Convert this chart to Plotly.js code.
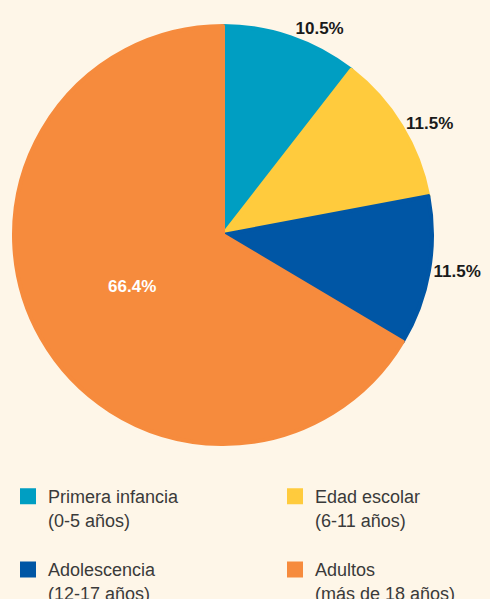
<!DOCTYPE html>
<html>
<head>
<meta charset="utf-8">
<script src="https://cdn.plot.ly/plotly-3.0.1.min.js"></script>
<style>html,body{margin:0;padding:0;background:#FEF6E8;overflow:hidden;}#chart{width:540px;height:599px;}</style>
</head>
<body>
<div id="chart"></div>
<script>
const categories = ["Primera infancia<br>(0-5 años)", "Edad escolar<br>(6-11 años)", "Adolescencia<br>(12-17 años)", "Adultos<br>(más de 18 años)"];
const values = [10.5, 11.5, 11.5, 66.4];
const labelsText = ["10.5%", "11.5%", "11.5%", "66.4%"];
const colors = ["#009EC2", "#FFCB3D", "#0056A5", "#F68B3D"];

const W = 540;
const trace = {
  type: "pie",
  labels: categories.map(c => c + "<br> "),
  values: values,
  text: labelsText,
  textinfo: "text",
  hoverinfo: "label+text",
  sort: false,
  direction: "clockwise",
  rotation: 0,
  marker: { colors: colors, line: { width: 4, color: colors } },
  textposition: ["outside", "outside", "outside", "inside"],
  insidetextorientation: "horizontal",
  outsidetextfont: { family: "Liberation Sans, Arial, sans-serif", size: 17, color: "#1a1a1a", weight: "bold" },
  insidetextfont: { family: "Liberation Sans, Arial, sans-serif", size: 17, color: "#ffffff", weight: "bold" },
  domain: { x: [14/W, 432/W], y: [1 - 444/599, 1 - 26/599] },
  automargin: false
};

const layout = {
  width: W,
  height: 599,
  margin: { l: 0, r: 0, t: 0, b: 0, autoexpand: false },
  paper_bgcolor: "#FEF6E8",
  plot_bgcolor: "#FEF6E8",
  showlegend: true,
  legend: {
    orientation: "h",
    x: 8/W,
    xanchor: "left",
    y: 1 - 478/599,
    yanchor: "top",
    entrywidth: 222,
    entrywidthmode: "pixels",
    valign: "top",
    traceorder: "normal",
    font: { family: "Liberation Sans, Arial, sans-serif", size: 18, color: "#3a3a3a" },
    bgcolor: "rgba(0,0,0,0)"
  },
  font: { family: "Liberation Sans, Arial, sans-serif" }
};

Plotly.newPlot("chart", [trace], layout, { displayModeBar: false, staticPlot: true });
</script>
</body>
</html>
